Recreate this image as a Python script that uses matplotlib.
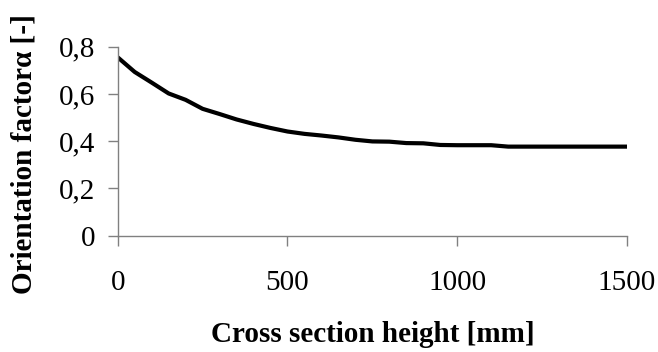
import matplotlib
matplotlib.use("Agg")
import matplotlib.pyplot as plt
from matplotlib.ticker import FuncFormatter

# Orientation factor along the cross section height
height_mm = [0, 50, 100, 150, 200, 250, 300, 350, 400, 450, 500, 550, 600, 650,
             700, 750, 800, 850, 900, 950, 1000, 1050, 1100, 1150, 1200, 1250,
             1300, 1350, 1400, 1450, 1500]
alpha = [0.755, 0.693, 0.648, 0.602, 0.575, 0.537, 0.515, 0.492, 0.473, 0.456,
         0.441, 0.431, 0.424, 0.416, 0.406, 0.399, 0.398, 0.392, 0.391, 0.384,
         0.383, 0.383, 0.383, 0.377, 0.377, 0.377, 0.377, 0.377, 0.377, 0.377,
         0.377]

x_ticks = [0, 500, 1000, 1500]
y_ticks = [0, 0.2, 0.4, 0.6, 0.8]

plt.rcParams["font.family"] = ["Liberation Serif", "DejaVu Serif"]

fig = plt.figure(figsize=(6.58, 3.52), dpi=100)
ax = fig.add_axes([0.1789, 0.3304, 0.774, 0.537])

ax.plot(height_mm, alpha, color="black", linewidth=3.0, solid_capstyle="butt")

ax.set_xlim(0, 1500)
ax.set_ylim(0, 0.8)
ax.set_xticks(x_ticks)
ax.set_yticks(y_ticks)
ax.yaxis.set_major_formatter(FuncFormatter(
    lambda v, p: "0" if v == 0 else f"{v:.1f}".replace(".", ",")))

for side in ["top", "right"]:
    ax.spines[side].set_visible(False)
for side in ["left", "bottom"]:
    ax.spines[side].set_color("#808080")
    ax.spines[side].set_linewidth(1.0)

ax.tick_params(axis="both", direction="out", length=7, width=1.0,
               color="#808080", labelsize=21, labelcolor="black")
ax.tick_params(axis="x", pad=18)
ax.tick_params(axis="y", pad=9)

ax.set_xlabel("Cross section height [mm]", fontsize=21, fontweight="bold")
ax.set_ylabel("Orientation factor\u03b1 [-]", fontsize=21, fontweight="bold")
ax.xaxis.set_label_coords(0.5, -0.45)
ax.yaxis.set_label_coords(-0.158, 0.432)

fig.savefig("out.png", dpi=100)
